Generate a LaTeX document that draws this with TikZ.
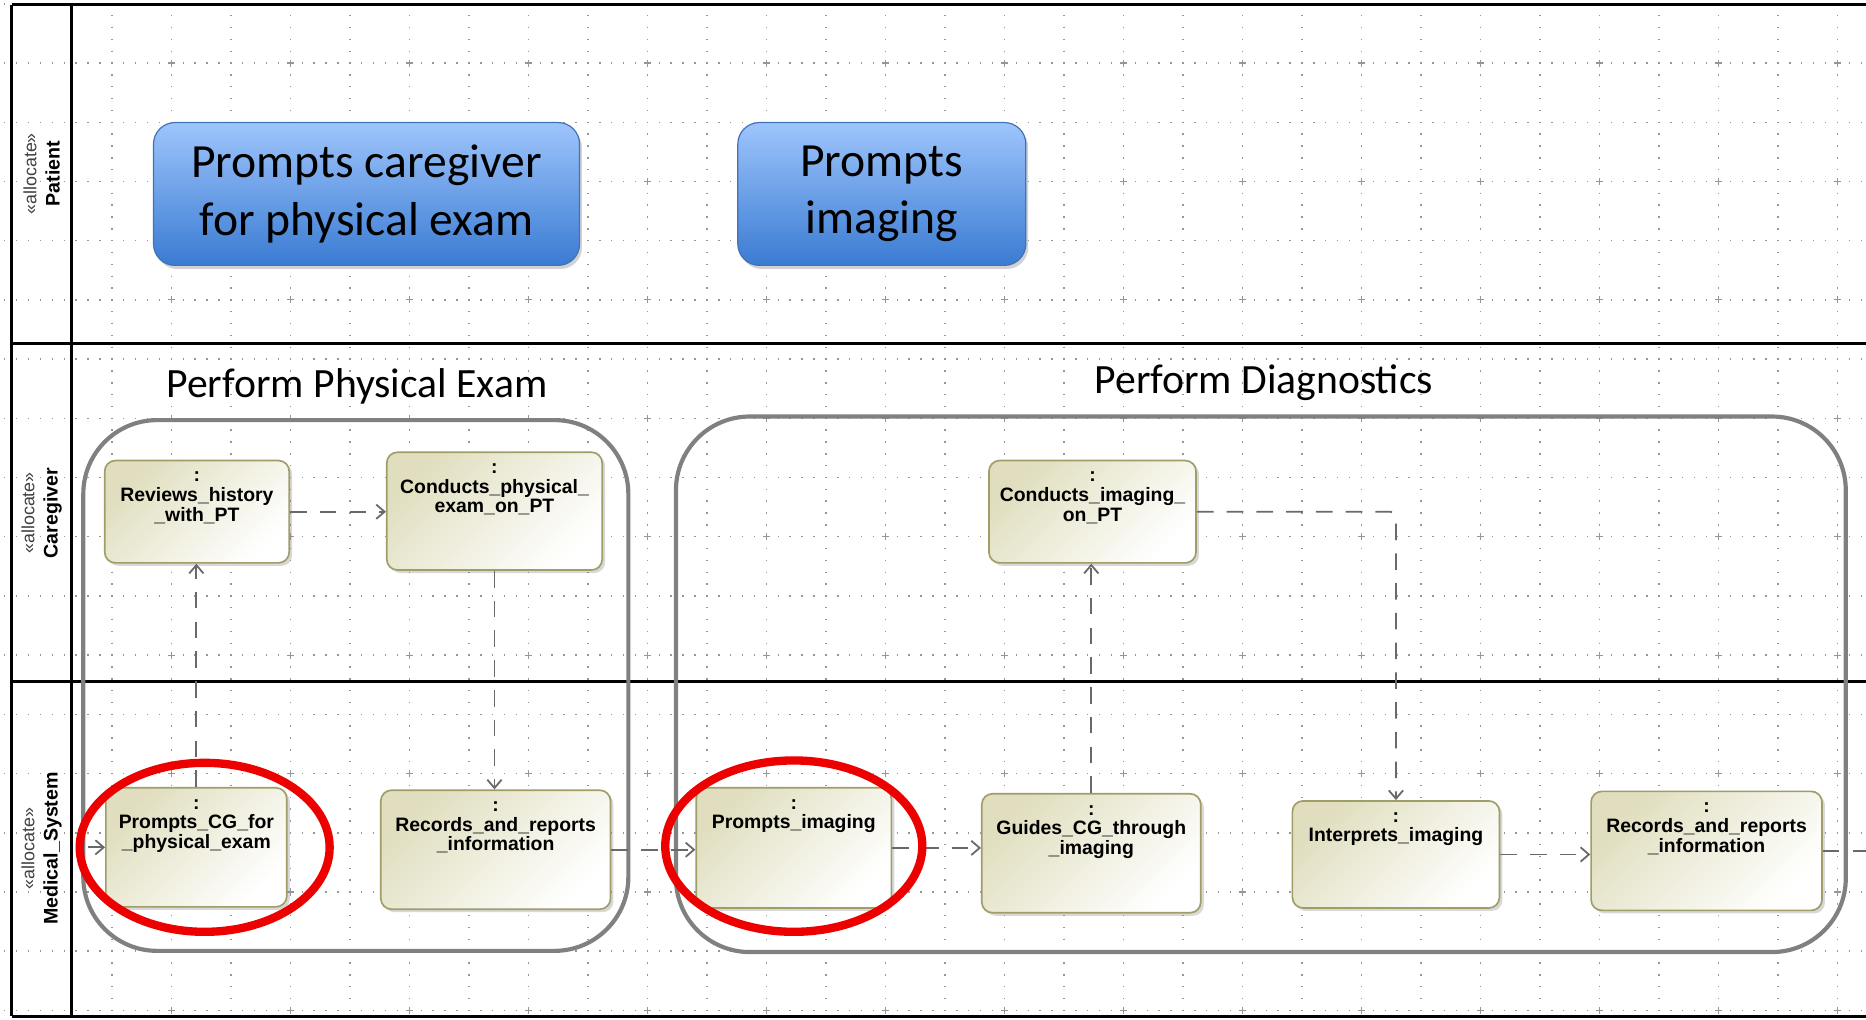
\documentclass[tikz,border=0pt]{standalone}
\usepackage{fontspec}
\setmainfont{Liberation Sans}
\newfontfamily\calibri{Carlito}
\usepackage{tikz}
\usetikzlibrary{arrows.meta,shapes.geometric,shadows}
\definecolor{actfill}{RGB}{224,222,190}
\definecolor{actborder}{RGB}{160,158,104}
\definecolor{bluetop}{RGB}{158,197,252}
\definecolor{bluebottom}{RGB}{58,123,210}
\definecolor{blueborder}{RGB}{66,114,182}
\definecolor{groupgray}{RGB}{128,128,128}
\definecolor{edgegray}{RGB}{105,105,105}
\definecolor{gridgray}{RGB}{150,150,150}
\definecolor{markred}{RGB}{236,0,0}
\tikzstyle{grid_line} = [gridgray, line width=1.3pt, dash pattern=on 1.2pt off 8.75pt]
\tikzstyle{lane_line} = [black, line width=2.6pt]
\tikzstyle{lane_label} = [rotate=90, align=center, inner sep=0pt, font=\fontsize{16.5}{19.5}\selectfont]
\tikzstyle{group_box} = [rectangle, draw=groupgray, line width=3.5pt, rounded corners=62pt, inner sep=0pt]
\tikzstyle{group_title} = [anchor=base, inner sep=0pt, font=\calibri\fontsize{35}{40}\selectfont]
\tikzstyle{blue_node} = [rectangle, rounded corners=18pt, draw=blueborder, line width=1pt, top color=bluetop, bottom color=bluebottom, drop shadow={opacity=0.35, shadow xshift=2pt, shadow yshift=-3pt}, align=center, inner sep=0pt, font=\calibri\fontsize{40}{48}\selectfont]
\tikzstyle{action_node} = [rectangle, rounded corners=9pt, draw=actborder, line width=1.4pt, top color=actfill, bottom color=white, shading angle=45, drop shadow={opacity=0.3, shadow xshift=2.5pt, shadow yshift=-2.5pt}, inner sep=0pt, font=\bfseries\fontsize{16.3}{16.5}\selectfont]
\tikzstyle{edge_plain} = [edgegray, line width=1.5pt, dash pattern=on 14pt off 11pt]
\tikzstyle{edge_flow} = [edge_plain, -{Straight Barb[length=7pt,width=12pt]}]
\tikzstyle{red_mark} = [ellipse, draw=markred, line width=7pt, inner sep=0pt]
\newcommand{\acttext}[3]{\parbox[c][#2][t]{#1}{\centering\rule{0pt}{18pt}#3}}

\begin{document}
\begin{tikzpicture}[x=1pt,y=-1pt]
		\useasboundingbox (0,0) rectangle (1568,857);
		\fill[white] (0,0) rectangle (1568,857);
		% dotted grid
		\foreach \gx in {94,144,...,1544}
			\draw[grid_line] (\gx,-47.1) -- (\gx,860);
		\foreach \k in {0,...,17}
			\draw[grid_line, dash pattern=on 1.2pt off 8.8pt] (-6.6,3.25+49.75*\k) -- (1568,3.25+49.75*\k);
		\foreach \gx in {144,244,...,1544}
			\foreach \gy in {53,152.5,...,849}
				\draw[gridgray, line width=1pt] (\gx-3,\gy) -- (\gx+3,\gy) (\gx,\gy-3) -- (\gx,\gy+3);
		
		% swimlanes
		\draw[lane_line] (10,4) -- (1568,4) (10,289) -- (1568,289) (10,573) -- (1568,573) (10,854) -- (1568,854);
		\draw[lane_line] (10,4) -- (10,854) (60,4) -- (60,854);
		\node (LP) at (35,146) [lane_label] {{\color{black!75}\fontsize{15}{19.5}\selectfont «allocate»}\\{\bfseries Patient}};
		\node (LC) at (35,431) [lane_label] {{\color{black!75}\fontsize{15}{19.5}\selectfont «allocate»}\\{\bfseries Caregiver}};
		\node (LM) at (35,713) [lane_label] {{\color{black!75}\fontsize{15}{19.5}\selectfont «allocate»}\\{\bfseries Medical\_System}};
		
		\node (G1) at (299,576) [group_box, minimum width=458pt, minimum height=446pt] {};
		\node (G2) at (1059.5,575) [group_box, minimum width=983pt, minimum height=450pt] {};
		\node (T1) at (300,334) [group_title] {Perform Physical Exam};
		\node (T2) at (1062,331) [group_title] {Perform Diagnostics};
		
		\node (BP) at (308,163) [blue_node, minimum width=358pt, minimum height=120pt] {Prompts caregiver\\for physical exam};
		\node (BI) at (741,163) [blue_node, minimum width=242pt, minimum height=120pt] {Prompts\\imaging};
		
		\node (RH) at (165.5,430) [action_node] {\acttext{155pt}{86pt}{:\\Reviews\_history\\\_with\_PT}};
		\node (CPE) at (415.5,429.5) [action_node] {\acttext{181pt}{99pt}{:\\Conducts\_physical\_\\exam\_on\_PT}};
		\node (PCG) at (165,712) [action_node] {\acttext{152pt}{100pt}{:\\Prompts\_CG\_for\\\_physical\_exam}};
		\node (RR1) at (416.5,714) [action_node] {\acttext{193pt}{100pt}{:\\Records\_and\_reports\\\_information}};
		\node (PI) at (667,712.5) [action_node] {\acttext{164pt}{101pt}{:\\Prompts\_imaging}};
		\node (GCG) at (917,717) [action_node] {\acttext{184pt}{100pt}{:\\Guides\_CG\_through\\\_imaging}};
		\node (CI) at (918,430) [action_node] {\acttext{174pt}{86pt}{:\\Conducts\_imaging\_\\on\_PT}};
		\node (II) at (1173,718) [action_node] {\acttext{174pt}{90pt}{:\\Interprets\_imaging}};
		\node (RR2) at (1434,715) [action_node] {\acttext{194pt}{100pt}{:\\Records\_and\_reports\\\_information}};
		
		\coordinate (IN) at (74,712);
		\coordinate (OUT) at (1572,715);
		\draw[edge_flow] (IN) -- (PCG.west);
		\draw[edge_flow] (PCG.north) -- (PCG.north |- RH.south);
		\draw[edge_flow] (RH.east) -- (RH.east -| CPE.west);
		\draw[edge_flow] (CPE.south) -- (CPE.south |- RR1.north);
		\draw[edge_flow] (RR1.east) -- (RR1.east -| PI.west);
		\draw[edge_flow] (PI.east) -- (PI.east -| GCG.west);
		\draw[edge_flow] (GCG.north) -- (GCG.north |- CI.south);
		\draw[edge_flow, rounded corners=5pt] (CI.east) -| (II.north);
		\draw[edge_flow] (II.east) -- (II.east -| RR2.west);
		\draw[edge_plain] (RR2.east) -- (OUT);
		
		\node (M1) at (172,712) [red_mark, minimum width=210pt, minimum height=142pt] {};
		\node (M2) at (667,711) [red_mark, minimum width=216pt, minimum height=144pt] {};
\end{tikzpicture}
\end{document}
